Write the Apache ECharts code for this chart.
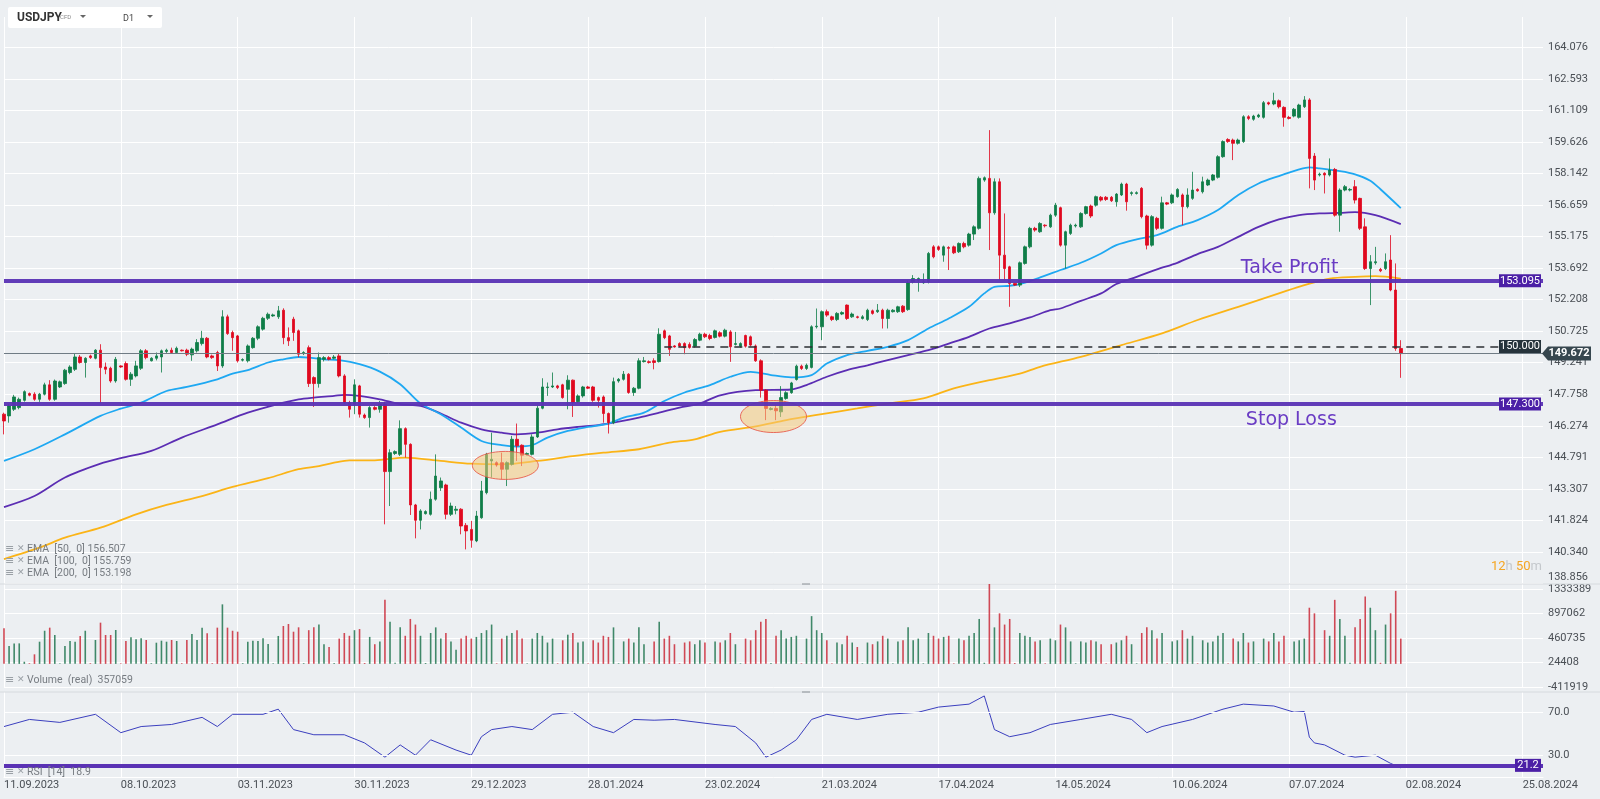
<!DOCTYPE html>
<html><head><meta charset="utf-8">
<script src="https://cdn.jsdelivr.net/npm/echarts@6/dist/echarts.min.js"></script>
<style>html,body{margin:0;padding:0;background:#eceff2;}#c{width:1600px;height:799px;}</style>
</head><body><div id="c"></div>
<script>
// ---------- DATA ----------
const tickLabels = ["11.09.2023","08.10.2023","03.11.2023","30.11.2023","29.12.2023","28.01.2024","23.02.2024","21.03.2024","17.04.2024","14.05.2024","10.06.2024","07.07.2024","02.08.2024","25.08.2024"];
// [open, close, low, high] per daily bar
const ohlc = [
[146.82,146.50,145.87,146.89],[146.74,147.21,146.42,147.29],[147.05,147.63,146.97,147.73],[147.13,147.52,147.05,147.60],[147.47,147.88,147.41,147.94],[147.79,147.71,147.66,147.84],
[147.76,147.52,147.45,147.85],[147.52,147.76,147.40,147.82],[147.76,148.20,147.70,148.30],[148.20,147.52,147.45,148.42],[147.52,148.38,147.45,148.45],[148.10,148.34,148.05,148.40],
[148.26,148.89,148.20,148.95],[148.78,149.04,148.70,149.12],[148.93,149.51,148.85,149.69],[149.51,149.25,149.20,149.60],[149.25,149.45,148.54,149.50],[149.56,149.48,149.42,149.62],
[149.45,149.83,149.40,149.88],[149.83,149.01,147.36,150.11],[149.04,148.93,148.70,149.25],[148.98,148.38,148.30,149.05],[148.38,149.40,148.30,149.51],[149.09,149.04,149.00,149.12],
[149.20,148.46,148.40,149.30],[148.46,148.70,148.15,148.80],[148.62,149.09,148.55,149.33],[148.98,149.80,148.90,149.88],[149.80,149.48,149.40,149.88],[149.33,149.45,149.30,149.50],
[149.45,149.56,149.35,149.72],[149.51,149.80,148.78,149.86],[149.77,149.83,149.70,149.90],[149.83,149.72,149.65,149.95],[149.72,149.92,149.65,150.00],[149.83,149.80,149.77,149.86],
[149.83,149.64,149.55,149.90],[149.61,149.88,149.33,149.95],[149.80,150.19,149.72,150.35],[150.14,150.39,150.05,150.74],[150.39,149.51,149.45,150.45],[149.56,149.48,149.42,149.62],
[149.72,149.09,148.85,149.80],[149.09,151.40,149.00,151.71],[151.40,150.61,150.55,151.50],[150.66,150.42,149.80,150.75],[150.50,149.33,149.25,150.55],[149.36,149.39,149.30,149.45],
[149.33,150.03,149.25,150.10],[149.95,150.39,149.90,150.45],[150.39,150.93,150.30,151.00],[150.82,151.33,150.75,151.40],[151.33,151.52,151.25,151.60],[151.44,151.49,151.40,151.55],
[151.40,151.68,151.30,151.91],[151.71,150.42,150.11,151.80],[150.42,150.27,150.03,150.90],[151.29,150.66,150.27,151.40],[150.74,149.64,149.50,150.80],[149.67,149.72,149.60,149.78],
[149.95,148.26,148.10,150.05],[148.54,148.26,147.16,148.60],[148.26,149.48,148.07,149.72],[149.40,149.48,149.30,149.55],[149.48,149.40,149.35,149.55],[149.45,149.51,149.40,149.60],
[149.56,148.62,148.55,149.65],[148.62,147.36,147.30,148.70],[147.36,147.05,146.66,147.45],[147.29,148.20,146.82,148.46],[148.15,146.82,146.66,148.20],[146.78,146.66,146.60,146.85],
[146.66,147.13,146.19,147.20],[147.13,147.05,147.00,147.20],[147.05,147.29,146.89,147.44],[147.29,144.12,141.64,147.40],[144.12,145.01,142.50,145.17],[144.97,145.06,144.90,145.12],
[144.93,146.14,144.85,146.53],[146.14,145.40,144.78,146.20],[145.40,142.55,142.08,145.45],[142.55,141.83,140.98,142.60],[141.83,142.27,141.40,142.35],[142.14,142.24,142.10,142.30],
[142.11,142.82,142.05,143.18],[142.82,143.91,142.75,144.93],[143.36,143.68,143.21,143.84],[143.49,142.11,141.88,143.55],[142.11,142.50,142.03,142.66],[142.30,142.35,142.11,142.50],
[142.35,141.56,141.17,142.40],[141.59,141.33,140.46,141.70],[141.40,140.89,140.54,141.80],[140.86,142.03,140.80,142.27],[141.95,143.21,141.90,143.68],[143.13,144.93,143.05,145.00],
[144.62,144.70,143.84,145.95],[144.54,144.43,144.35,144.60],[144.54,144.23,143.76,145.01],[144.23,144.54,143.44,144.60],[144.46,145.64,144.40,145.80],[145.64,145.33,144.62,146.38],
[145.36,144.89,144.38,145.40],[144.93,144.97,144.88,145.02],[144.93,145.75,144.88,145.87],[145.75,147.10,145.70,147.21],[147.10,148.10,147.05,148.51],[148.07,148.10,147.68,148.31],
[148.10,148.15,148.05,148.78],[148.15,148.07,148.00,148.20],[148.20,147.60,147.55,148.25],[147.99,148.42,147.05,148.65],[148.42,147.36,146.69,148.45],[147.41,147.68,147.35,147.75],
[147.68,148.10,147.60,148.15],[148.10,148.04,148.00,148.15],[148.10,147.47,147.40,148.15],[147.60,147.47,147.13,147.65],[147.63,146.85,146.42,147.70],[146.85,146.42,145.91,146.90],
[146.42,148.35,146.35,148.54],[148.38,148.46,148.30,148.52],[148.46,148.70,148.40,148.85],[148.70,147.84,147.78,148.75],[147.84,148.04,147.68,148.10],[148.04,149.33,147.99,149.45],
[149.29,149.33,149.25,149.51],[149.29,149.25,149.20,149.35],[149.33,149.25,148.93,149.45],[149.29,150.58,149.25,150.86],[150.74,150.42,150.35,150.80],[150.50,149.87,149.56,150.55],
[150.03,149.98,149.95,150.07],[150.14,150.03,149.98,150.20],[150.14,149.95,149.64,150.20],[150.10,149.96,149.90,150.20],[150.02,150.33,149.95,150.40],[150.30,150.58,150.25,150.65],
[150.58,150.46,150.40,150.65],[150.52,150.38,150.30,150.60],[150.43,150.74,150.38,150.80],[150.65,150.49,150.43,150.72],[150.49,150.77,150.43,150.84],[150.69,149.99,149.28,150.77],
[150.10,150.14,150.05,150.69],[150.02,150.14,149.95,150.20],[150.52,150.02,149.95,150.56],[150.46,150.07,150.00,150.52],[150.03,149.33,149.28,150.10],[149.33,147.95,147.60,149.40],
[147.95,147.09,146.54,148.00],[147.04,147.09,147.00,147.15],[147.09,146.98,146.54,147.24],[146.93,147.60,146.69,148.14],[147.56,147.83,147.50,147.90],[147.83,148.29,147.78,148.34],
[148.45,149.08,148.40,149.15],[149.08,148.97,148.90,149.15],[148.97,149.12,148.90,149.20],[149.02,150.93,148.97,151.00],[150.93,150.96,150.85,151.79],[150.93,151.64,150.30,151.70],
[151.64,151.48,151.40,151.74],[151.40,151.27,151.20,151.45],[151.27,151.56,151.20,151.62],[151.53,151.60,151.48,151.66],[151.95,151.32,151.25,151.98],[151.40,151.53,151.35,151.60],
[151.40,151.37,151.32,151.45],[151.32,151.40,151.27,151.48],[151.27,151.71,151.20,151.78],[151.68,151.56,151.50,151.74],[151.64,151.71,151.58,152.00],[151.71,151.32,150.85,151.78],
[151.32,151.71,150.85,151.78],[151.64,151.71,151.60,151.76],[151.64,151.87,151.58,151.92],[151.90,151.64,151.58,151.95],[151.74,153.00,151.68,153.10],[153.05,153.20,152.97,153.36],
[153.12,153.20,152.58,153.25],[153.00,153.05,152.95,153.44],[153.05,154.38,152.97,154.45],[154.69,154.22,154.15,154.77],[154.69,154.57,154.50,154.75],[154.30,154.69,153.99,154.75],
[154.66,154.62,153.60,154.72],[154.69,154.41,154.35,154.75],[154.46,154.85,154.40,154.90],[154.85,154.69,154.62,154.93],[154.77,155.29,154.70,155.35],[155.29,155.63,155.01,155.70],
[155.56,157.91,155.50,158.00],[157.83,157.94,157.75,158.00],[157.91,156.29,154.54,160.18],[156.29,157.75,156.20,157.91],[157.75,154.30,153.12,157.91],[154.30,153.67,153.12,156.26],
[153.75,152.97,151.87,153.80],[152.97,152.89,152.85,153.00],[152.89,153.94,152.80,154.00],[153.91,154.69,153.85,154.75],[154.69,155.56,154.62,155.63],[155.56,155.48,155.40,155.63],
[155.40,155.79,155.35,155.85],[155.71,155.68,155.60,155.75],[155.63,156.18,155.58,156.25],[156.18,156.65,156.10,156.76],[156.53,154.77,154.70,156.58],[154.77,155.40,153.67,155.45],
[155.32,155.71,155.25,155.78],[155.67,155.71,155.60,155.78],[155.63,156.26,155.58,156.32],[156.26,156.58,156.20,156.62],[156.61,156.14,156.05,156.68],[156.65,157.05,156.58,157.10],
[157.02,156.89,156.82,157.08],[157.02,156.92,156.85,157.08],[157.02,156.86,156.80,157.08],[156.81,157.17,156.58,157.22],[157.13,157.64,157.08,157.71],[157.64,156.81,156.39,157.70],
[157.20,157.24,157.10,157.30],[157.20,157.24,157.15,157.30],[157.44,156.11,156.03,157.50],[156.14,154.77,154.57,156.20],[154.77,156.11,154.70,156.18],[156.03,155.56,155.48,156.10],
[155.56,156.76,155.50,157.05],[156.76,156.70,156.65,156.80],[156.76,157.13,156.70,157.20],[157.05,157.39,157.00,157.45],[157.13,156.58,155.71,157.20],[156.58,157.13,156.50,157.44],
[156.97,157.36,156.90,158.22],[157.39,157.33,157.28,157.44],[157.28,157.75,157.20,157.99],[157.60,157.83,157.55,157.90],[157.83,158.07,157.78,158.12],[157.96,158.93,157.90,159.00],
[158.93,159.64,158.88,159.70],[159.74,159.64,159.58,159.80],[159.71,159.56,158.77,159.78],[159.56,159.71,159.50,159.78],[159.64,160.81,159.58,160.88],[160.81,160.73,160.65,160.88],
[160.69,160.84,160.62,160.90],[160.81,160.89,160.75,160.95],[160.78,161.47,160.72,161.55],[161.47,161.41,161.35,161.52],[161.41,161.56,161.35,161.94],[161.56,161.28,161.20,161.62],
[161.25,160.78,160.34,161.30],[160.78,160.73,160.68,160.85],[160.84,161.16,160.78,161.22],[160.78,161.36,160.72,161.42],[161.28,161.60,161.22,161.78],[161.60,158.85,157.44,161.68],
[158.96,157.83,157.36,159.10],[158.07,158.11,158.00,158.18],[158.15,158.07,157.20,158.20],[158.07,158.30,158.00,158.85],[158.33,156.18,156.11,158.40],[156.18,157.36,155.40,157.44],
[157.36,157.52,157.30,157.60],[157.36,157.39,157.30,157.45],[157.52,156.89,156.73,157.83],[156.97,155.56,155.48,157.00],[155.63,153.67,153.60,156.03],[153.67,153.99,151.95,154.30],
[153.94,153.99,153.85,154.69],[153.63,153.56,153.50,153.70],[153.67,153.99,153.60,154.38],[154.07,152.66,152.60,155.24],[152.66,149.91,149.80,153.91],[149.91,149.67,148.53,150.30]
];
const volume = [
633000,318000,365000,365000,38000,12000, 170000,395000,590000,645000,514000,12000,
318000,407000,395000,497000,590000,12000, 425000,734000,514000,514000,603000,12000,
407000,473000,437000,455000,425000,12000, 377000,413000,395000,425000,407000,12000,
425000,532000,425000,645000,544000,12000, 645000,1060000,645000,590000,573000,12000,
395000,413000,407000,455000,354000,12000, 497000,674000,710000,573000,651000,12000,
600000,650000,700000,350000,300000,15000, 450000,550000,500000,600000,620000,15000,
480000,350000,400000,1140000,750000,20000, 650000,500000,800000,700000,500000,15000,
550000,650000,450000,550000,400000, 250000,450000,500000,450000, 480000,550000,600000,700000,10000,
450000,500000,550000,600000,450000,10000, 450000,550000,500000,380000,450000,10000,
420000,520000,550000,380000,400000,10000, 420000,380000,500000,480000,650000,10000,
400000,450000,380000,650000,350000,10000, 400000,750000,450000,500000,350000,10000,
380000,400000,350000,420000,380000,10000, 400000,380000,420000,550000,350000,10000,
450000,420000,600000,750000,800000,15000, 500000,600000,450000,480000,500000,10000,
450000,850000,600000,550000,420000,10000, 380000,350000,500000,380000,300000,10000,
380000,350000,400000,500000,450000,10000, 400000,420000,650000,420000,450000,10000,
550000,500000,450000,480000,500000,10000, 450000,420000,500000,550000,800000,20000,
1430000,650000,900000,700000,800000,15000, 550000,500000,480000,400000,420000,10000,
450000,420000,700000,650000,400000,10000, 400000,380000,420000,400000,350000,10000,
350000,380000,420000,500000,350000,10000, 550000,650000,600000,450000,550000,10000,
400000,420000,600000,450000,500000,10000, 420000,380000,400000,500000,550000,10000,
450000,400000,550000,380000,400000,10000, 450000,400000,550000,400000,500000,10000,
400000,420000,450000,1000000,900000,20000, 600000,500000,1140000,800000,500000,20000,
650000,800000,1200000,1000000,600000,20000, 700000,900000,1300000,450000
];
// RSI(14) read at sampled bars: [bar index, value]
const rsi = [[0,56.7],[5,63.2],[11,60.5],[18,67.9],[23,51.1],[27,56.7],[33,58.6],[39,65.1],[42,56.7],[45,67.9],[51,67.9],[54,72.6],[57,53.9],[61,49.2],[67,49.2],[71,41.7],[75,28.7],[78,39.9],[81,30.5],[84,44.6],[89,35.2],[92,30.5],[94,47.4],[96,53.9],[100,56.7],[104,53.9],[108,67.9],[112,69.8],[116,56.7],[120,51.1],[124,63.2],[128,62.5],[132,63.2],[140,58.6],[144,56.7],[148,41.7],[150,28.7],[153,35.2],[156,44.6],[159,63.2],[162,67.9],[168,63.2],[174,67.9],[180,69.8],[184,74.5],[190,77.2],[193,84.7],[195,53.9],[198,47.4],[202,51.1],[206,58.6],[212,63.2],[218,67.9],[222,63.2],[225,51.1],[228,56.7],[234,63.2],[240,72.6],[244,77.2],[250,75.5],[254,69.8],[256,70.5],[257,47.0],[258,41.7],[260,39.9],[264,30.5],[266,28.7],[270,30.5],[273,23.0],[275,18.9]];
const ema50 = [[0,144.62],[6,145.17],[12,145.87],[19,146.74],[23,147.08],[27,147.36],[32,147.91],[36,148.10],[42,148.46],[45,148.73],[48,148.89],[52,149.25],[55,149.40],[58,149.51],[60,149.48],[63,149.40],[66,149.36],[70,149.17],[74,148.82],[78,148.23],[82,147.32],[86,146.82],[90,146.19],[94,145.56],[98,145.36],[101,145.30],[104,145.37],[107,145.72],[111,146.03],[115,146.22],[119,146.38],[122,146.66],[126,146.89],[130,147.44],[134,147.84],[139,148.19],[143,148.58],[147,148.81],[151,148.66],[155,148.55],[159,148.66],[162,149.20],[166,149.60],[170,149.80],[174,149.99],[178,150.30],[182,150.85],[186,151.32],[190,151.87],[193,152.50],[195,152.81],[198,152.86],[200,152.94],[204,153.25],[208,153.60],[212,153.94],[216,154.38],[219,154.77],[223,155.04],[227,155.24],[231,155.63],[235,155.95],[239,156.42],[243,157.13],[247,157.67],[251,158.02],[255,158.33],[257,158.43],[259,158.38],[263,158.25],[266,158.10],[269,157.80],[271,157.40],[275,156.51]];
const ema100 = [[0,142.45],[6,142.97],[12,143.84],[19,144.49],[23,144.75],[29,145.09],[35,145.72],[42,146.34],[48,146.89],[55,147.36],[58,147.52],[61,147.60],[65,147.68],[67,147.73],[70,147.68],[74,147.52],[78,147.29],[82,147.21],[86,146.85],[90,146.42],[94,146.11],[98,145.95],[101,145.87],[105,145.95],[109,146.11],[113,146.22],[117,146.31],[121,146.47],[125,146.66],[129,146.89],[133,147.13],[137,147.32],[141,147.71],[148,147.95],[155,147.98],[158,148.19],[162,148.58],[166,148.89],[170,149.12],[174,149.36],[178,149.60],[182,149.83],[186,150.14],[190,150.46],[194,150.85],[198,151.09],[202,151.37],[206,151.71],[208,151.79],[212,152.15],[216,152.50],[219,152.94],[223,153.28],[227,153.63],[231,153.94],[235,154.35],[239,154.69],[243,155.16],[247,155.63],[251,155.98],[255,156.18],[259,156.26],[263,156.29],[266,156.32],[270,156.18],[275,155.76]];
const ema200 = [[0,140.00],[7,140.54],[12,141.01],[19,141.48],[26,142.11],[32,142.55],[39,142.97],[45,143.40],[52,143.81],[58,144.23],[62,144.38],[65,144.54],[68,144.65],[73,144.65],[79,144.78],[86,144.62],[92,144.49],[98,144.46],[105,144.62],[112,144.85],[118,145.01],[125,145.17],[131,145.48],[136,145.64],[141,145.99],[148,146.25],[154,146.54],[161,146.82],[168,147.09],[174,147.32],[181,147.56],[187,148.03],[194,148.42],[200,148.73],[204,149.05],[212,149.52],[220,150.07],[228,150.62],[235,151.25],[243,151.87],[251,152.50],[256,152.89],[261,153.20],[266,153.28],[270,153.31],[275,153.20]];
const takeProfit = 153.095, stopLoss = 147.300, entryLevel = 150.000, lastPrice = 149.672, rsiLevel = 21.2;
const emaLabels = ["EMA  [50,  0] 156.507","EMA  [100,  0] 155.759","EMA  [200,  0] 153.198"];

// ---------- STYLE ----------
const UP = '#0f7d48', DOWN = '#e0081e', PURPLE = '#5a32b4', TAGP = '#4b1fa6';
const F = 'Roboto';
const grids = [
  {left:4, right:57, top:17, height:566.5},
  {left:4, right:57, top:584, height:103},
  {left:4, right:57, top:692, height:85.6}
];
function xAx(i){
  return {type:'value', gridIndex:i, min:0, max:303, interval:23,
    axisLine:{show:i===2, lineStyle:{color:'#ffffff'}}, axisTick:{show:false},
    splitLine:{show:true, showMaxLine:false, lineStyle:{color:'#ffffff', width:1}},
    axisLabel:{show:i===2, align:'left', margin:2, color:'#4a4f55', fontFamily:F, fontSize:11,
      showMaxLabel:false,
      formatter:v=>{const k=Math.round(v/23); return (Math.abs(v-k*23)<1e-6 && k<tickLabels.length)?tickLabels[k]:'';}}};
}
const lbl = {color:'#4a4f55', fontFamily:F, fontSize:11, margin:5, align:'left'};
const option = {
  backgroundColor:'#eceff2',
  animation:false,
  grid: grids,
  xAxis:[xAx(0),xAx(1),xAx(2)],
  yAxis:[
    {type:'value', gridIndex:0, position:'right', min:138.85647, max:165.5, interval:1.4835294,
     axisLine:{show:false}, axisTick:{show:false},
     splitLine:{show:true, showMaxLine:false, lineStyle:{color:'#ffffff'}},
     axisLabel:Object.assign({}, lbl, {showMaxLabel:false, formatter:v=>(v>164.2||v<139)?'':v.toFixed(3)})},
    {type:'value', gridIndex:1, position:'right', min:-411919, max:1422414, interval:436327,
     axisLine:{show:false}, axisTick:{show:false},
     splitLine:{show:true, showMaxLine:false, lineStyle:{color:'#ffffff'}},
     axisLabel:Object.assign({}, lbl, {showMaxLabel:false, formatter:v=>v>1400000?'':String(Math.round(v))})},
    {type:'value', gridIndex:2, position:'right', min:10, max:88.3, interval:10,
     axisLine:{show:false}, axisTick:{show:false}, splitLine:{show:false},
     axisLabel:Object.assign({}, lbl, {formatter:v=>(Math.abs(v-30)<1e-6||Math.abs(v-70)<1e-6)?v.toFixed(1):''})}
  ],
  series:[
    {type:'line', name:'EMA200', xAxisIndex:0, yAxisIndex:0, data:ema200, smooth:0.3, symbol:'none', lineStyle:{color:'#fbb417', width:1.8}, z:2},
    {type:'line', name:'EMA100', xAxisIndex:0, yAxisIndex:0, data:ema100, smooth:0.3, symbol:'none', lineStyle:{color:'#5b2db3', width:1.8}, z:2},
    {type:'line', name:'EMA50', xAxisIndex:0, yAxisIndex:0, data:ema50, smooth:0.3, symbol:'none', lineStyle:{color:'#1ea8f2', width:1.8}, z:2},
    {type:'candlestick', name:'USDJPY', xAxisIndex:0, yAxisIndex:0, barWidth:3,
     encode:{x:0, y:[1,2,3,4]},
     data: ohlc.map((d,i)=>[i,d[0],d[1],d[2],d[3]]),
     itemStyle:{color:UP, color0:DOWN, borderColor:UP, borderColor0:DOWN, borderWidth:0.8},
     z:3,
     markLine:{symbol:'none', silent:true, label:{show:false}, animation:false,
       data:[
         {yAxis:lastPrice, lineStyle:{color:'#6f7b84', width:1, type:'solid'}},
         {yAxis:takeProfit, lineStyle:{color:PURPLE, width:4, type:'solid', opacity:0.95}},
         {yAxis:stopLoss, lineStyle:{color:PURPLE, width:4, type:'solid', opacity:0.95}},
         [{coord:[130,entryLevel], lineStyle:{color:'#2b2f33', width:1.5, type:[8,6]}},{coord:[303,entryLevel]}]
       ]}},
    {type:'bar', name:'Volume', xAxisIndex:1, yAxisIndex:1, barWidth:1.6,
     data: volume.map((v,i)=>[i,v]),
     itemStyle:{color:p=>{const d=ohlc[p.dataIndex]; return d[1]>=d[0]?'rgba(20,110,70,0.8)':'rgba(200,30,45,0.8)';}}},
    {type:'line', name:'RSI', xAxisIndex:2, yAxisIndex:2, data:rsi, symbol:'none', lineStyle:{color:'#3b3fbf', width:1}, z:3,
     markLine:{symbol:'none', silent:true, label:{show:false}, animation:false,
       data:[
         {yAxis:70, lineStyle:{color:'#ffffff', width:1, type:'solid'}},
         {yAxis:30, lineStyle:{color:'#ffffff', width:1, type:'solid'}},
         {yAxis:rsiLevel, lineStyle:{color:PURPLE, width:4, type:'solid'}}
       ]}}
  ]
};
const chart = echarts.init(document.getElementById('c'));
chart.setOption(option);

// ---------- ANNOTATIONS ----------
const P = (g, x, y) => chart.convertToPixel({gridIndex:g}, [x, y]);
function tag(y, txt, bg, x0, w){
  return {type:'group', children:[
    {type:'rect', shape:{x:x0, y:y-6.5, width:w, height:13}, style:{fill:bg}, z:50},
    {type:'text', style:{x:x0+w/2, y:y, text:txt, fill:'#ffffff', font:'11px Roboto', align:'center', verticalAlign:'middle'}, z:51}
  ]};
}
const yTP = P(0,0,takeProfit)[1], ySL = P(0,0,stopLoss)[1], yEn = P(0,0,entryLevel)[1], yLast = P(0,0,lastPrice)[1];
const yRsi = P(2,0,rsiLevel)[1];
const e1 = P(0, 98.7, 144.41), e2 = P(0, 151.5, 146.71);
const tp = P(0, 243.5, takeProfit), sl = P(0, 244.5, stopLoss);
const g = [
  {type:'rect', shape:{x:8, y:7, width:154, height:21, r:2}, style:{fill:'#ffffff'}, z:60},
  {type:'text', style:{x:17, y:17.5, text:'USDJPY', font:'bold 12px Roboto', fill:'#333', verticalAlign:'middle'}, z:61},
  {type:'text', style:{x:60, y:17.5, text:'CFD', font:'6px Roboto', fill:'#888', verticalAlign:'middle'}, z:61},
  {type:'polygon', shape:{points:[[80,15],[86,15],[83,18]]}, style:{fill:'#666'}, z:61},
  {type:'text', style:{x:123, y:18.5, text:'D1', font:'9px Roboto', fill:'#444', verticalAlign:'middle'}, z:61},
  {type:'polygon', shape:{points:[[147,15],[153,15],[150,18]]}, style:{fill:'#666'}, z:61},
  {type:'ellipse', shape:{cx:e1[0], cy:e1[1], rx:33, ry:14}, style:{fill:'rgba(246,200,120,0.55)', stroke:'rgba(230,85,70,0.85)', lineWidth:1}, z:4},
  {type:'ellipse', shape:{cx:e2[0], cy:e2[1], rx:33, ry:16}, style:{fill:'rgba(246,200,120,0.55)', stroke:'rgba(230,85,70,0.85)', lineWidth:1}, z:4},
  {type:'text', style:{x:tp[0], y:yTP-13, text:'Take Profit', font:'19px "DejaVu Sans"', fill:'#6a3cc4', verticalAlign:'middle'}, z:10},
  {type:'text', style:{x:sl[0], y:ySL+16, text:'Stop Loss', font:'19px "DejaVu Sans"', fill:'#6a3cc4', verticalAlign:'middle'}, z:10},
  tag(yTP, '153.095', TAGP, 1499, 42),
  tag(ySL, '147.300', TAGP, 1499, 42),
  tag(yEn, '150.000', '#26333b', 1499, 42),
  tag(yRsi, '21.2', TAGP, 1515, 26),
  {type:'polygon', shape:{points:[[1542,yLast],[1548,yLast-7],[1591,yLast-7],[1591,yLast+7],[1548,yLast+7]]}, style:{fill:'#37474f'}, z:50},
  {type:'text', style:{x:1569, y:yLast, text:'149.672', font:'bold 11px Roboto', fill:'#ffffff', align:'center', verticalAlign:'middle'}, z:51},
  {type:'text', style:{x:1548, y:577, text:'138.856', font:'11px Roboto', fill:'#4a4f55', verticalAlign:'middle'}, z:51},
  {type:'text', style:{x:1491, y:567, text:'{o|12}{g|h} {o|50}{g|m}', font:'13px Roboto', verticalAlign:'middle',
    rich:{o:{fill:'#f5a623', font:'13px Roboto'}, g:{fill:'#c4c8cc', font:'13px Roboto'}}}, z:51},
  {type:'line', shape:{x1:0, y1:584, x2:1600, y2:584}, style:{stroke:'#d6dade', lineWidth:1}, z:1},
  {type:'line', shape:{x1:0, y1:692, x2:1600, y2:692}, style:{stroke:'#d6dade', lineWidth:1}, z:1},
  {type:'line', shape:{x1:802, y1:584, x2:810, y2:584}, style:{stroke:'#8a9096', lineWidth:1}, z:5},
  {type:'line', shape:{x1:802, y1:692, x2:810, y2:692}, style:{stroke:'#8a9096', lineWidth:1}, z:5}
];
function legend(y, txt){
  return [
    {type:'text', style:{x:5, y:y, text:'≡', font:'11px "DejaVu Sans"', fill:'#9aa0a6', verticalAlign:'middle'}, z:20},
    {type:'text', style:{x:17, y:y, text:'✕', font:'9px "DejaVu Sans"', fill:'#9aa0a6', verticalAlign:'middle'}, z:20},
    {type:'text', style:{x:27, y:y, text:txt, font:'10.5px Roboto', fill:'#777c82', verticalAlign:'middle'}, z:20}
  ];
}
emaLabels.forEach((t,k)=>g.push(...legend(549+12*k, t)));
g.push(...legend(680, 'Volume  (real)  357059'));
g.push(...legend(772, 'RSI  [14]  18.9'));
chart.setOption({graphic:g});
</script></body></html>
